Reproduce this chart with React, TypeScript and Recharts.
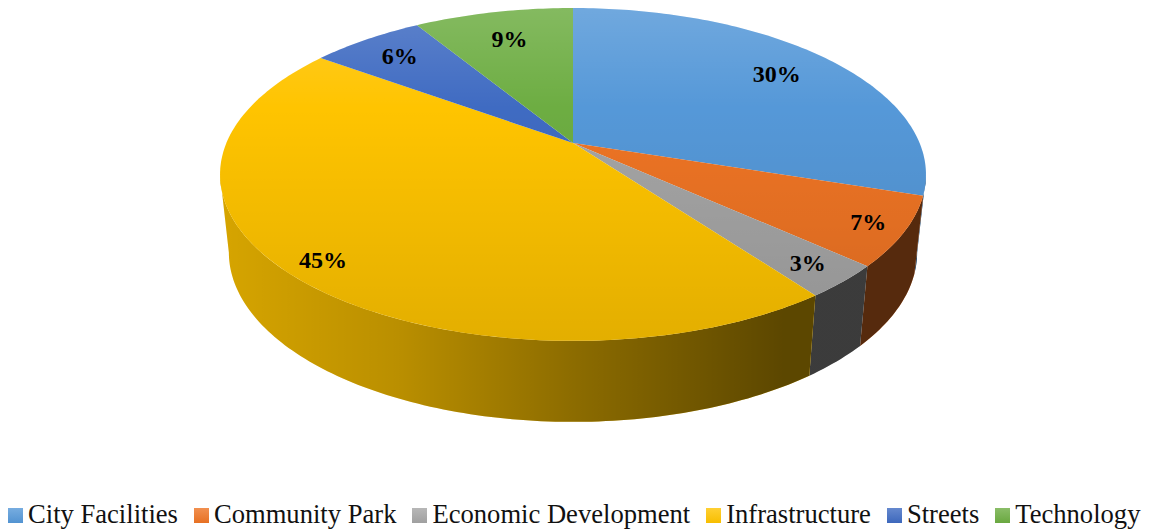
import React from 'react';
import { PieChart, Pie, Legend } from 'recharts';

const categories = ['City Facilities', 'Community Park', 'Economic Development', 'Infrastructure', 'Streets', 'Technology'];
const shares = [30, 6.7, 3.2, 45.1, 6.25, 8.75];
const colors = ['#5598d8', '#ee7424', '#a5a5a5', '#ffc400', '#3f6bc2', '#6dad42'];
const labelDepths = [0.79, 0.9, 0.885, 0.9, 0.82, 0.77];
const rows = categories.map((name, i) => ({ name, value: shares[i], fill: colors[i] }));

const TILT = 0.463;
const PERSPECTIVE = 0.189;
const SIDE_MIN = 101;
const SIDE_MAX = 259;

function project(cx: number, cy: number, radius: number, frac: number, theta: number, lower = false) {
  const t = (theta * Math.PI) / 180;
  const X = frac * Math.sin(t);
  const Y = frac * Math.cos(t);
  const w = 1 + PERSPECTIVE * Y;
  let px = (radius * X) / w;
  let py = (-radius * TILT * Y) / w;
  if (lower) {
    px *= 0.975;
    py += 77 - 4 * Y;
  }
  return [cx + px, cy + py];
}

function arc(cx: number, cy: number, radius: number, from: number, to: number, lower = false) {
  const pts: number[][] = [];
  const n = Math.max(2, Math.ceil(Math.abs(to - from)));
  for (let i = 0; i <= n; i++) pts.push(project(cx, cy, radius, 1, from + ((to - from) * i) / n, lower));
  return pts;
}

const toPath = (pts: number[][]) => 'M' + pts.map((p) => `${p[0].toFixed(2)},${p[1].toFixed(2)}`).join('L') + 'Z';

function Slice3D(props: any) {
  const { cx, cy, outerRadius, startAngle, endAngle, fill } = props;
  const a = 90 - startAngle;
  const b = 90 - endAngle;
  const top = toPath([[cx, cy], ...arc(cx, cy, outerRadius, a, b)]);
  const s = Math.max(a, SIDE_MIN);
  const e = Math.min(b, SIDE_MAX);
  const side = e > s ? toPath([...arc(cx, cy, outerRadius, s, e), ...arc(cx, cy, outerRadius, e, s, true)]) : null;
  return (
    <g>
      {side && <path d={side} fill={fill} />}
      {side && <path d={side} fill="url(#sideShade)" />}
      <path d={top} fill={fill} />
      <path d={top} fill="url(#topShade)" />
    </g>
  );
}

function renderLabel(props: any) {
  const { cx, cy, outerRadius, midAngle, percent, index } = props;
  const theta = 90 - midAngle;
  const [x, y] = project(cx, cy, outerRadius, labelDepths[index], theta);
  return (
    <text x={x} y={y} textAnchor="middle" dominantBaseline="central" fontFamily="'Liberation Serif'" fontWeight="bold" fontSize={24} fill="#000">
      {`${Math.round(percent * 100)}%`}
    </text>
  );
}

function renderLegend(props: any) {
  const items = props.payload || [];
  return (
    <div style={{ display: 'flex', alignItems: 'baseline', fontFamily: "'Liberation Serif'", fontSize: 26.6, color: '#111', whiteSpace: 'nowrap', lineHeight: '32px' }}>
      {items.map((it: any) => (
        <span key={it.value} style={{ display: 'inline-flex', alignItems: 'baseline', marginRight: 16 }}>
          <span
            style={{
              display: 'inline-block',
              width: 15,
              height: 15,
              marginRight: 5,
              backgroundColor: it.color,
              backgroundImage: 'linear-gradient(rgba(255,255,255,0.2), rgba(0,0,0,0.03))',
            }}
          />
          {it.value}
        </span>
      ))}
    </div>
  );
}

export default function App() {
  return (
    <div style={{ position: 'absolute', left: 0, top: 0, width: 1152, height: 531, background: '#fff' }}>
      <PieChart width={1152} height={531} margin={{ top: 0, right: 0, bottom: 0, left: 0 }}>
        <defs>
          <linearGradient id="topShade" gradientUnits="userSpaceOnUse" x1="0" y1="8" x2="0" y2="341">
            <stop offset="0" stopColor="#fff" stopOpacity={0.16} />
            <stop offset="0.3" stopColor="#fff" stopOpacity={0} />
            <stop offset="0.3" stopColor="#000" stopOpacity={0} />
            <stop offset="1" stopColor="#000" stopOpacity={0.11} />
          </linearGradient>
          <linearGradient id="sideShade" gradientUnits="userSpaceOnUse" x1="220" y1="0" x2="926" y2="0">
            <stop offset="0" stopColor="#000" stopOpacity={0.16} />
            <stop offset="0.25" stopColor="#000" stopOpacity={0.27} />
            <stop offset="0.5" stopColor="#000" stopOpacity={0.45} />
            <stop offset="0.8" stopColor="#000" stopOpacity={0.64} />
            <stop offset="1" stopColor="#000" stopOpacity={0.64} />
          </linearGradient>
        </defs>
        <Pie
          data={rows}
          dataKey="value"
          nameKey="name"
          cx={573}
          cy={143}
          innerRadius={0}
          outerRadius={346.6}
          startAngle={90}
          endAngle={-270}
          stroke="none"
          shape={Slice3D}
          label={renderLabel}
          labelLine={false}
          isAnimationActive={false}
        />
        <Legend content={renderLegend} wrapperStyle={{ left: 8, top: 498, width: 1144 }} />
      </PieChart>
    </div>
  );
}
